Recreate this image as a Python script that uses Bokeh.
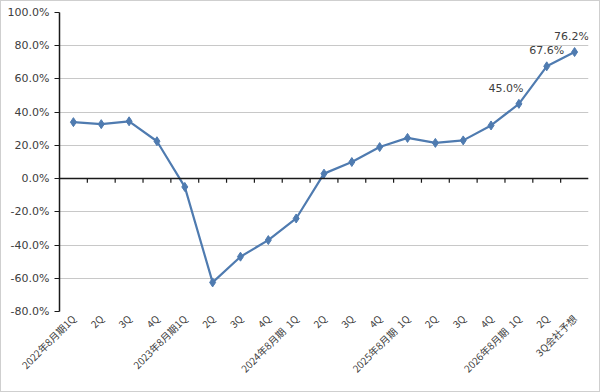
from bokeh.plotting import figure
from bokeh.layouts import column
from bokeh.models import (Range1d, FixedTicker, PrintfTickFormatter, Span,
                          ColumnDataSource, LabelSet)
from bokeh.core.properties import value
from bokeh.embed import file_html
from bokeh.resources import INLINE
import math

# Quarterly labels (fiscal year ending August)
quarters = [
    "2022年8月期1Q", "2Q", "3Q", "4Q",
    "2023年8月期1Q", "2Q", "3Q", "4Q",
    "2024年8月期\u20021Q", "2Q", "3Q", "4Q",
    "2025年8月期\u20021Q", "2Q", "3Q", "4Q",
    "2026年8月期\u20021Q", "2Q", "3Q会社予想",
]

# Growth rate (%)
growth = [34.0, 32.8, 34.5, 22.5, -5.0, -62.5, -47.0, -37.0, -24.0,
          3.0, 10.0, 19.0, 24.5, 21.5, 23.0, 32.0, 45.0, 67.6, 76.2]

# Indices of points that carry a value label
labelled = [16, 17, 18]

y_ticks = [-80, -60, -40, -20, 0, 20, 40, 60, 80, 100]

LINE = "#4f7bb0"
TEXT = "#404040"
FONT = "DejaVu Sans"
JP_FONT = "Noto Sans CJK JP"

n = len(quarters)
xs = list(range(n))

p = figure(width=592, height=384, output_backend="svg", toolbar_location=None,
           x_range=Range1d(-0.5, n - 0.5), y_range=Range1d(-80, 100),
           min_border_left=53, min_border_right=8, min_border_top=8,
           min_border_bottom=77)
p.outline_line_color = None
p.background_fill_color = "white"
p.border_fill_color = "white"

# y axis
p.yaxis.ticker = FixedTicker(ticks=y_ticks)
p.yaxis.formatter = PrintfTickFormatter(format="%.1f%%")
p.yaxis.axis_line_color = "#1a1a1a"
p.yaxis.axis_line_width = 1.5
p.yaxis.major_tick_line_color = "#1a1a1a"
p.yaxis.major_tick_out = 5
p.yaxis.major_tick_in = 0
p.yaxis.minor_tick_line_color = None
p.yaxis.major_label_text_font = FONT
p.yaxis.major_label_text_font_size = "11px"
p.yaxis.major_label_text_color = TEXT
p.yaxis.major_label_standoff = 5

# x axis: labels only, drawn at the bottom of the frame
p.xaxis.ticker = FixedTicker(ticks=xs)
p.xaxis.major_label_overrides = {i: q for i, q in enumerate(quarters)}
p.xaxis.major_label_orientation = math.pi / 4
p.xaxis.axis_line_color = None
p.xaxis.major_tick_line_color = None
p.xaxis.minor_tick_line_color = None
p.xaxis.major_tick_out = 0
p.xaxis.major_tick_in = 0
p.xaxis.major_label_text_font = JP_FONT
p.xaxis.major_label_text_font_size = "10px"
p.xaxis.major_label_text_color = TEXT
p.xaxis.major_label_standoff = 5

# grid
p.xgrid.grid_line_color = None
p.ygrid.ticker = FixedTicker(ticks=y_ticks)
p.ygrid.grid_line_color = "#c8c8c8"
p.ygrid.grid_line_width = 1

# zero line with category boundary ticks
p.add_layout(Span(location=0, dimension="width", line_color="#1a1a1a",
                  line_width=1.5))
bounds = [i + 0.5 for i in range(n - 1)]
p.segment(x0=bounds, x1=bounds, y0=[0] * len(bounds), y1=[-2.5] * len(bounds),
          line_color="#1a1a1a", line_width=1.2)

# series
p.line(xs, growth, line_color=LINE, line_width=2.2)
p.scatter(xs, growth, marker="diamond", size=9, fill_color=LINE,
          line_color=LINE)

# value labels
lab_src = ColumnDataSource(dict(
    x=[xs[i] for i in labelled],
    y=[growth[i] for i in labelled],
    text=[f"{growth[i]:.1f}%" for i in labelled],
    dx=[-13, 0, -3],
))
p.add_layout(LabelSet(x="x", y="y", text="text", source=lab_src,
                      x_offset="dx", y_offset=9, text_align="center",
                      text_baseline="bottom", text_font=value(FONT),
                      text_font_size=value("11px"), text_color=TEXT))

# chart area framed by a thin light border
layout = column(p, styles={"border": "1px solid #cfcfcf", "padding": "3px",
                           "background-color": "white"})

open("out.html", "w").write(file_html(layout, INLINE))
